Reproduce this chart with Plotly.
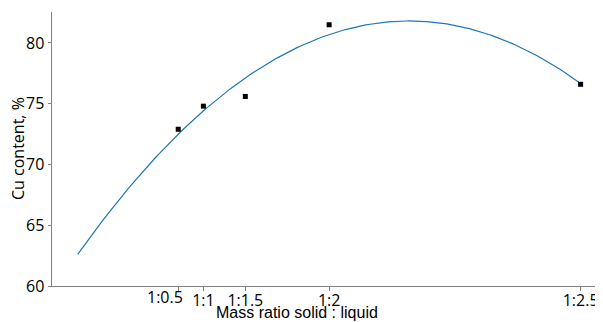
import numpy as np
import plotly.graph_objects as go

# data
ratio_labels = ["1:0.5", "1:1", "1:1.5", "1:2", "1:2.5"]
liquid_parts = [0.5, 1.0, 1.5, 2.0, 2.5]
cu_content = [72.9, 74.8, 75.6, 81.5, 76.6]
y_ticks = [60, 65, 70, 75, 80]

# x coordinate used by the original plot: u = 1/(3 - r)
u = [1.0 / (3.0 - r) for r in liquid_parts]

# quadratic least-squares trend computed from the data
coef = np.polyfit(u, cu_content, 2)
u_fit = np.linspace(0, 2, 200)
y_fit = np.polyval(coef, u_fit)

fig = go.Figure()
fig.add_trace(go.Scatter(x=u_fit, y=y_fit, mode="lines",
                         line=dict(color="#1f77b4", width=1.2),
                         showlegend=False, hoverinfo="skip"))
fig.add_trace(go.Scatter(x=u, y=cu_content, mode="markers",
                         marker=dict(symbol="square", size=5, color="black"),
                         showlegend=False))

tick_font = "Open Sans, Noto Sans, sans-serif"
# the first tick label sits left of its tick in the reference: draw it as an annotation
tick_text = [""] + ratio_labels[1:]

# page body has an 8px margin, so the figure is sized/offset to compensate
fig.update_layout(
    width=595, height=314,
    margin=dict(l=44, r=0, t=4, b=36),
    plot_bgcolor="white", paper_bgcolor="white",
    font=dict(family=tick_font, size=16, color="black"),
    xaxis=dict(range=[-0.102, 2.089], tickvals=u, ticktext=tick_text,
               tickangle=0, automargin=False, ticklabelstandoff=-4,
               showgrid=False, zeroline=False, showline=True,
               linecolor="#808080", linewidth=1, ticks="outside",
               tickcolor="#808080", ticklen=3.5,
               tickfont=dict(family=tick_font, size=16)),
    yaxis=dict(range=[60, 82.55], tickvals=y_ticks, automargin=False,
               showgrid=False, zeroline=False, showline=True,
               linecolor="#808080", linewidth=1, ticks="outside",
               tickcolor="#808080", ticklen=3.5,
               tickfont=dict(family=tick_font, size=16)),
    annotations=[
        dict(text=ratio_labels[0], xref="x", yref="paper", x=u[0], y=0,
             xanchor="center", yanchor="middle", xshift=-13, yshift=-11,
             showarrow=False, font=dict(family=tick_font, size=16)),
        dict(text="Cu content, %", xref="paper", yref="paper", x=0, y=0.5,
             xanchor="center", yanchor="middle", xshift=-34, textangle=-90,
             showarrow=False, font=dict(family=tick_font, size=16)),
        dict(text="Mass ratio solid : liquid", xref="paper", yref="paper",
             x=(297 - 52) / 551, y=0, xanchor="center", yanchor="middle",
             yshift=-26, showarrow=False,
             font=dict(family="Liberation Sans, Arial, sans-serif", size=16)),
    ],
)
fig.write_html("out.html")
